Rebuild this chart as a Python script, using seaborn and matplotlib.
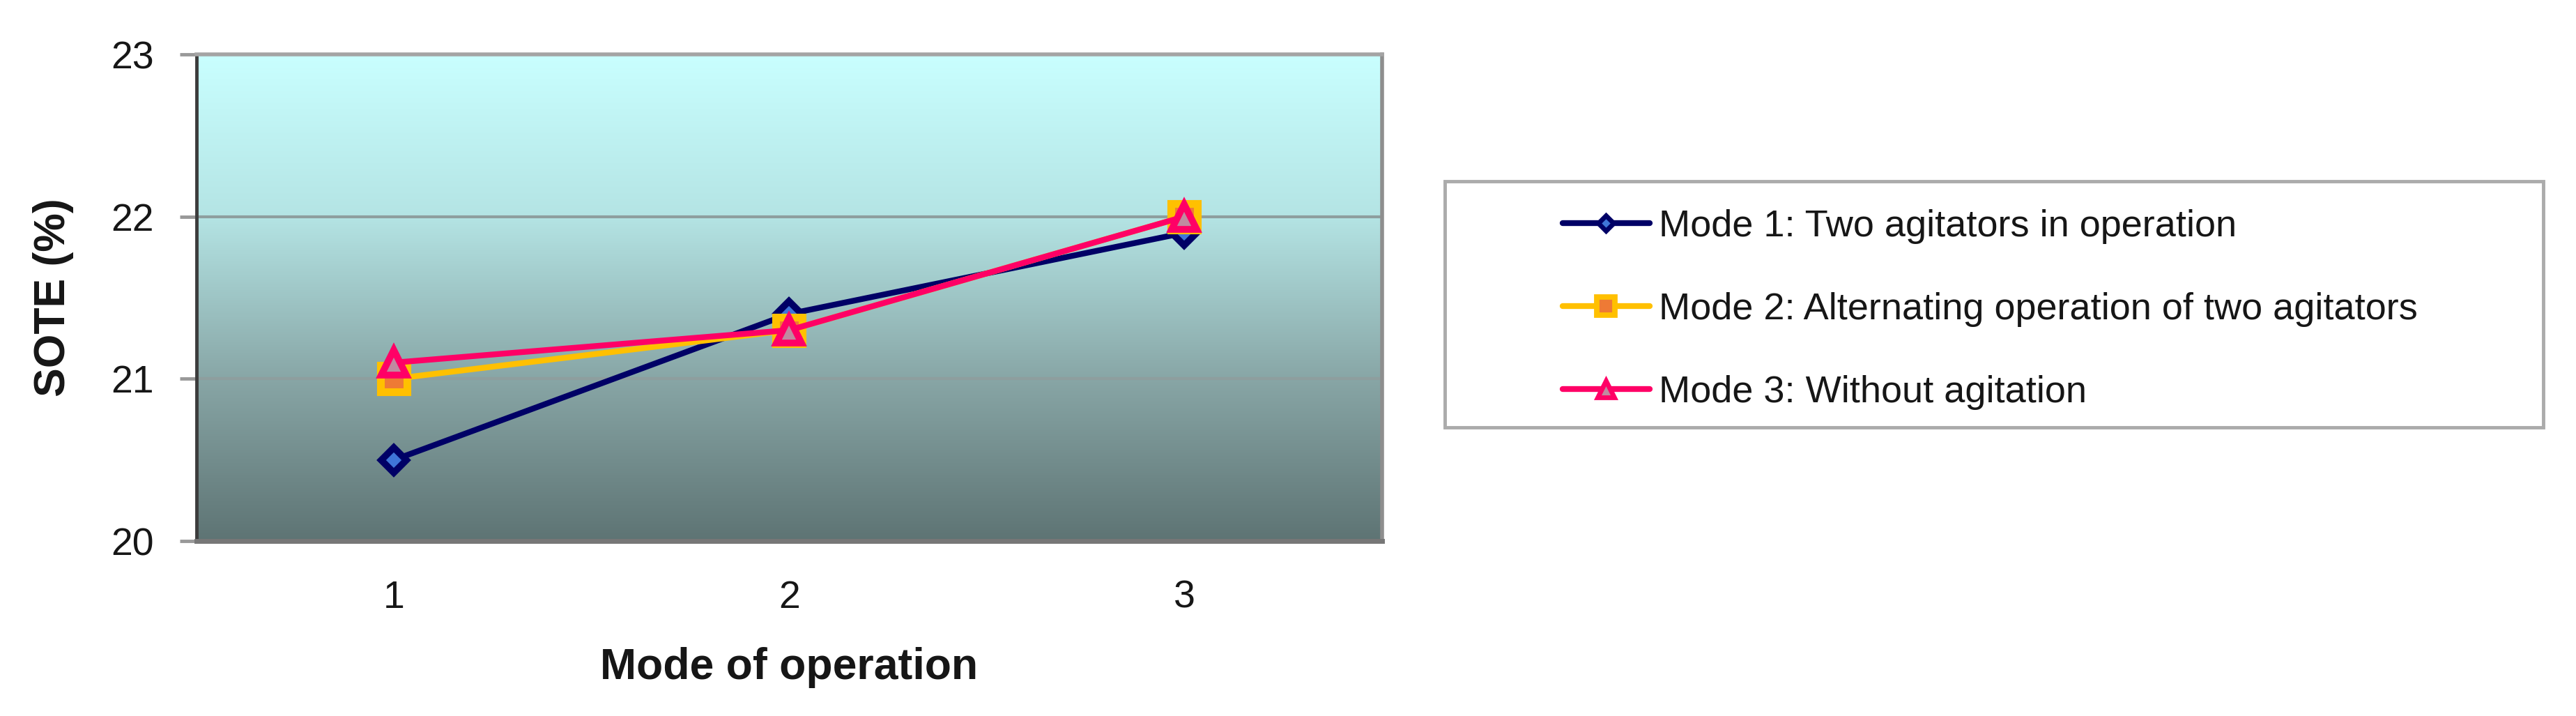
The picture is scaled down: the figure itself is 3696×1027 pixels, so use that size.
import numpy as np
import pandas as pd
import matplotlib
matplotlib.use("Agg")
import matplotlib.pyplot as plt
from matplotlib.patches import Rectangle
import seaborn as sns
from matplotlib.colors import LinearSegmentedColormap

# ---- data ----
modes = [1, 2, 3]
mode1 = [20.5, 21.4, 21.9]
mode2 = [21.0, 21.3, 22.0]
mode3 = [21.1, 21.3, 22.0]
series_names = ["Mode 1: Two agitators in operation",
                "Mode 2: Alternating operation of two agitators",
                "Mode 3: Without agitation"]
y_ticks = [20, 21, 22, 23]

df = pd.DataFrame({
    "mode": modes * 3,
    "sote": mode1 + mode2 + mode3,
    "series": [series_names[0]] * 3 + [series_names[1]] * 3 + [series_names[2]] * 3,
})

sns.set_theme(style="white")
plt.rcParams["font.family"] = ["Liberation Sans", "DejaVu Sans"]

TXT = "#161616"
fig = plt.figure(figsize=(36.96, 10.27), dpi=100)
ax = fig.add_axes([0.0763, 0.2444, 0.4602, 0.6796])

# gradient background
cmap = LinearSegmentedColormap.from_list(
    "bg", [(0.0, "#5E7474"), (0.333, "#88A6A6"), (0.667, "#B4E4E4"), (1.0, "#C9FFFF")])
grad = np.linspace(0, 1, 256).reshape(-1, 1)
ax.imshow(grad, aspect="auto", cmap=cmap, origin="lower",
          extent=[0, 1, 0, 1], transform=ax.transAxes, zorder=0)

styles = [
    dict(color="#000066", marker="D", mfc="#3F75D8", mec="#000066", ms=18, mew=7),
    dict(color="#FFC000", marker="s", mfc="#EE7A35", mec="#FFC000", ms=28, mew=8),
    dict(color="#FF0066", marker="^", mfc="#C08AA0", mec="#FF0066", ms=26, mew=7),
]
for name, st in zip(series_names, styles):
    sub = df[df["series"] == name]
    sns.lineplot(data=sub, x="mode", y="sote", ax=ax, color=st["color"],
                 linewidth=6, marker=st["marker"], markersize=st["ms"],
                 markerfacecolor=st["mfc"], markeredgecolor=st["mec"],
                 markeredgewidth=st["mew"], label=name, zorder=3, legend=False)

ax.set_xlim(0.5, 3.5)
ax.set_ylim(20, 23)
ax.set_yticks(y_ticks)
ax.set_yticklabels([str(t) for t in y_ticks])
ax.set_xticks(modes)
ax.set_xticklabels([str(m) for m in modes])
ax.set_xticks([0.5, 1.5, 2.5, 3.5], minor=True)
ax.tick_params(axis="x", which="major", length=0, pad=40, labelsize=40, colors=TXT)
ax.tick_params(axis="x", which="minor", length=14, width=3.5, color="#8A8A8A", direction="out")
ax.tick_params(axis="y", which="major", length=17, width=3.5, color="#999999", pad=27,
               labelsize=40, labelcolor=TXT, direction="out", left=True)

for y in [21, 22]:
    ax.axhline(y, color="#8E9E9E", linewidth=3, zorder=1)

for side, col, lw in [("left", "#3C3C3C", 3.5), ("bottom", "#777777", 5),
                      ("top", "#A4A4A4", 4), ("right", "#8E8E8E", 4)]:
    ax.spines[side].set_visible(True)
    ax.spines[side].set_color(col)
    ax.spines[side].set_linewidth(lw)

ax.set_xlabel("Mode of operation", fontsize=45, fontweight="bold", labelpad=32, color=TXT)
ax.set_ylabel("SOTE (%)", fontsize=45, fontweight="bold", labelpad=38, color=TXT)
ax.grid(False)

# legend frame
fig.add_artist(Rectangle((0.5609, 0.4031), 0.4264, 0.3437, transform=fig.transFigure,
                         facecolor="white", edgecolor="#ABABAB", linewidth=3.5, zorder=1))

handles, labels = ax.get_legend_handles_labels()
leg = fig.legend(handles, labels, loc="upper left", bbox_to_anchor=(0.6066, 0.7079),
                 fontsize=39, frameon=False, labelspacing=1.27, borderpad=0,
                 handlelength=2.3, handletextpad=0.25, borderaxespad=0)
leg.set_zorder(5)
for h in leg.legend_handles:
    h.set_markersize(h.get_markersize() * 0.65)
    h.set_markeredgewidth(h.get_markeredgewidth() * 0.7)
for t in leg.get_texts():
    t.set_color(TXT)

fig.savefig("out.png", dpi=100, facecolor="white")
